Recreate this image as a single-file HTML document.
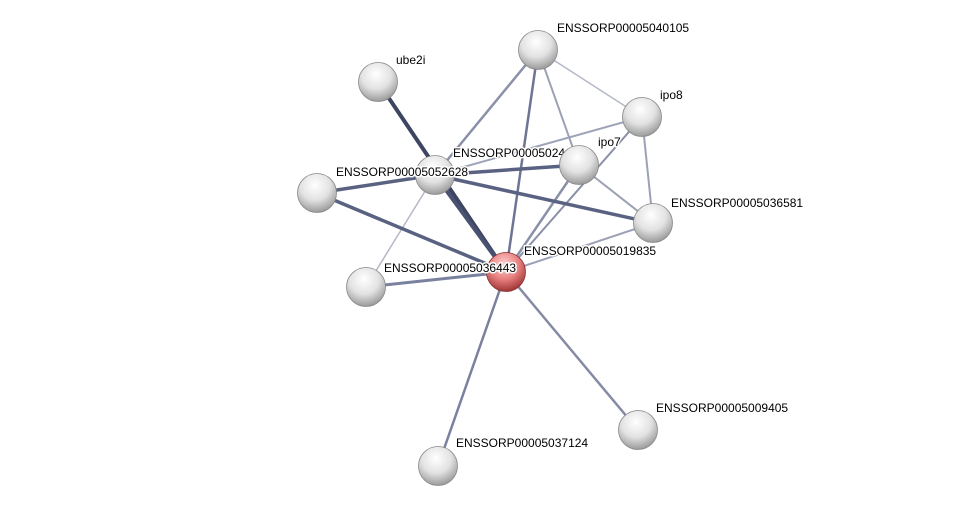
<!DOCTYPE html>
<html><head><style>
html,body{margin:0;padding:0;background:#fff;}
svg text{font-family:"Liberation Sans",Arial,sans-serif;font-size:12px;fill:#000;paint-order:stroke;stroke:#fff;stroke-width:3px;stroke-linejoin:round;}
</style></head><body>
<svg width="975" height="511" viewBox="0 0 975 511" xmlns="http://www.w3.org/2000/svg">
<defs>
<radialGradient id="g" cx="45%" cy="30%" r="70%">
<stop offset="0" stop-color="#ffffff"/><stop offset="0.55" stop-color="#e2e2e2"/><stop offset="1" stop-color="#9a9a9a"/>
</radialGradient>
<radialGradient id="r" cx="45%" cy="30%" r="70%">
<stop offset="0" stop-color="#ffd0d0"/><stop offset="0.55" stop-color="#e88080"/><stop offset="1" stop-color="#a03535"/>
</radialGradient>
</defs>
<g stroke-linecap="round">
<line x1="378" y1="82" x2="506" y2="272" stroke="#3d4562" stroke-width="4"/>
<line x1="435" y1="175" x2="506" y2="272" stroke="#4a5272" stroke-width="4"/>
<line x1="538" y1="50" x2="435" y2="175" stroke="#8a90a8" stroke-width="2.5"/>
<line x1="538" y1="50" x2="506" y2="272" stroke="#6d7494" stroke-width="2.5"/>
<line x1="538" y1="50" x2="579" y2="165" stroke="#9ca1b5" stroke-width="2"/>
<line x1="538" y1="50" x2="642" y2="117" stroke="#b5b8c6" stroke-width="1.5"/>
<line x1="642" y1="117" x2="435" y2="175" stroke="#9ea3b8" stroke-width="2"/>
<line x1="642" y1="117" x2="653" y2="223" stroke="#9ca1b5" stroke-width="2"/>
<line x1="642" y1="117" x2="506" y2="272" stroke="#8a90a8" stroke-width="2"/>
<line x1="579" y1="165" x2="435" y2="175" stroke="#5a6282" stroke-width="3.5"/>
<line x1="579" y1="165" x2="506" y2="272" stroke="#8a90a8" stroke-width="2.5"/>
<line x1="579" y1="165" x2="653" y2="223" stroke="#9ca1b5" stroke-width="2"/>
<line x1="435" y1="175" x2="317" y2="193" stroke="#5a6282" stroke-width="3.5"/>
<line x1="435" y1="175" x2="653" y2="223" stroke="#5a6282" stroke-width="3.5"/>
<line x1="435" y1="175" x2="366" y2="287" stroke="#b5b8c6" stroke-width="1.5"/>
<line x1="317" y1="193" x2="506" y2="272" stroke="#5a6282" stroke-width="3.5"/>
<line x1="366" y1="287" x2="506" y2="272" stroke="#7a819e" stroke-width="3"/>
<line x1="653" y1="223" x2="506" y2="272" stroke="#9ca1b5" stroke-width="2"/>
<line x1="506" y1="272" x2="438" y2="466" stroke="#7a819e" stroke-width="2.5"/>
<line x1="506" y1="272" x2="638" y2="430" stroke="#858ba4" stroke-width="2.5"/>
</g>
<text x="453" y="157">ENSSORP00005024</text>
<g stroke="#888" stroke-width="0.8">
<circle cx="538" cy="50" r="19.5" fill="url(#g)"/>
<circle cx="378" cy="82" r="19.5" fill="url(#g)"/>
<circle cx="642" cy="117" r="19.5" fill="url(#g)"/>
<circle cx="579" cy="165" r="19.5" fill="url(#g)"/>
<circle cx="435" cy="175" r="19.5" fill="url(#g)"/>
<circle cx="317" cy="193" r="19.5" fill="url(#g)"/>
<circle cx="653" cy="223" r="19.5" fill="url(#g)"/>
<circle cx="366" cy="287" r="19.5" fill="url(#g)"/>
<circle cx="638" cy="430" r="19.5" fill="url(#g)"/>
<circle cx="438" cy="466" r="19.5" fill="url(#g)"/>
<circle cx="506" cy="272" r="19.5" fill="url(#r)" stroke="#8a3030"/>
</g>
<text x="557" y="32">ENSSORP00005040105</text>
<text x="396" y="64">ube2i</text>
<text x="660" y="99">ipo8</text>
<text x="598" y="146">ipo7</text>
<text x="336" y="176">ENSSORP00005052628</text>
<text x="671" y="207">ENSSORP00005036581</text>
<text x="524" y="255">ENSSORP00005019835</text>
<text x="384" y="272">ENSSORP00005036443</text>
<text x="656" y="412">ENSSORP00005009405</text>
<text x="456" y="447">ENSSORP00005037124</text>
</svg>
</body></html>
